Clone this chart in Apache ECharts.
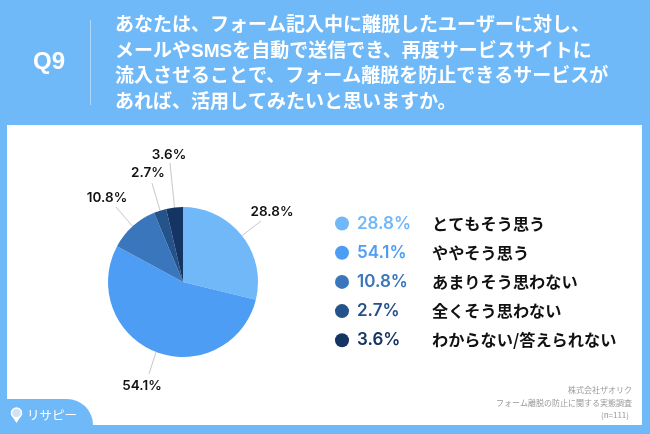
<!DOCTYPE html>
<html><head><meta charset="utf-8">
<style>html,body{margin:0;padding:0;background:#fff}#c{width:650px;height:434px}</style>
<script src="https://cdn.jsdelivr.net/npm/echarts@6/dist/echarts.min.js"></script>
</head><body><div id="c"></div>
<script>
const categories = ['とてもそう思う','ややそう思う','あまりそう思わない','全くそう思わない','わからない/答えられない'];
const values = [28.8,54.1,10.8,2.7,3.6];
const colors = ['#70b8f8','#4d9df5','#3a76bb','#24528a','#143563'];
const questionLines = ['あなたは、フォーム記入中に離脱したユーザーに対し、','メールやSMSを自動で送信でき、再度サービスサイトに','流入させることで、フォーム離脱を防止できるサービスが','あれば、活用してみたいと思いますか。'];
const questionLabel = 'Q9';
const sourceLines = ['株式会社ザオリク','フォーム離脱の防止に関する実態調査','(n=111)'];
const brand = 'リサピー';
const bg = '#70b9f8';
const jp = '"Liberation Sans","Noto Sans CJK JP",sans-serif';
const latin = 'Inter,"Noto Sans CJK JP",sans-serif';
const labelCentres = [[272,212],[142,386],[107,198],[148,173],[169,155]];
const lineEnds = [[261,221],[149,374],[116,207],[152,183],[170,163]];
const center = [183,282], radius = 75;
const rich = {};
colors.forEach((c,i)=>{rich['p'+i]={color:c,fontFamily:latin,fontSize:17,fontWeight:600,width:75,align:'left'};});
rich.n={color:'#111',fontFamily:'"Noto Sans CJK JP",sans-serif',fontSize:16.2,fontWeight:700};
const chart = echarts.init(document.getElementById('c'),null,{renderer:'canvas'});
const pct = v=>v.toFixed(1)+'%';
const total = values.reduce((a,b)=>a+b,0);
function sliceEdge(i){
  const before = values.slice(0,i).reduce((a,b)=>a+b,0);
  const a = (before+values[i]/2)/total*2*Math.PI;
  return [center[0]+radius*Math.sin(a), center[1]-radius*Math.cos(a)];
}
chart.setOption({
  animation:false,
  backgroundColor:bg,
  legend:{
    orient:'vertical',left:335,top:213,padding:0,itemWidth:14,itemHeight:14,itemGap:8.2,icon:'circle',
    selectedMode:false,
    data:categories,
    formatter:name=>{const i=categories.indexOf(name);return `{p${i}|${pct(values[i])}}{n|${name}}`;},
    textStyle:{rich,padding:[0,0,0,3],lineHeight:21}
  },
  graphic:[
    {type:'rect',z:0,shape:{x:7,y:125,width:635,height:300},style:{fill:'#fff'}},
    {type:'rect',z:1,shape:{x:0,y:399,width:93,height:35,r:[0,26,0,0]},style:{fill:bg}},
    {type:'rect',z:1,shape:{x:90,y:20,width:1,height:85},style:{fill:'rgba(255,255,255,0.45)'}},
    {type:'text',z:2,x:49,y:62,style:{text:questionLabel,fill:'#fff',font:'700 24px "Liberation Sans",sans-serif',align:'center',verticalAlign:'middle'}},
    ...questionLines.map((t,i)=>({type:'text',z:2,x:115,y:26+i*25.5,style:{text:t,fill:'#fff',font:'700 19px '+jp,verticalAlign:'middle'}})),
    ...sourceLines.map((t,i)=>({type:'text',z:2,x:i==2?629:632,y:390+i*12.5,style:{text:t,fill:'#999',font:'400 8px "Noto Sans CJK JP",sans-serif',align:'right',verticalAlign:'middle'}})),
    {type:'text',z:3,x:27,y:415,style:{text:brand,fill:'#fff',font:'400 12.5px "Noto Sans CJK JP",sans-serif',verticalAlign:'middle'}},
    {type:'polygon',z:3,shape:{points:[[12,416],[21,416],[16.5,423]]},style:{fill:'#fff'}},
    {type:'circle',z:3,shape:{cx:16.5,cy:413,r:5},style:{fill:'#cfe3f3',stroke:'#fff',lineWidth:1.6}}
  ],
  series:[{
    type:'pie',center:center,radius:[0,radius],startAngle:90,clockwise:true,
    silent:true,
    data:categories.map((n,i)=>({name:n,value:values[i],itemStyle:{color:colors[i]}})),
    label:{show:true,formatter:p=>pct(p.value),color:'#111',fontFamily:latin,fontSize:13.5,fontWeight:600},
    labelLine:{show:true,length:14,length2:0,lineStyle:{color:'#c8c8c8',width:1}},
    labelLayout:p=>{const c=labelCentres[p.dataIndex];return {x:c[0],y:c[1],align:'center',verticalAlign:'middle',
      labelLinePoints:[sliceEdge(p.dataIndex),lineEnds[p.dataIndex],lineEnds[p.dataIndex]]};}
  }]
});
</script></body></html>
